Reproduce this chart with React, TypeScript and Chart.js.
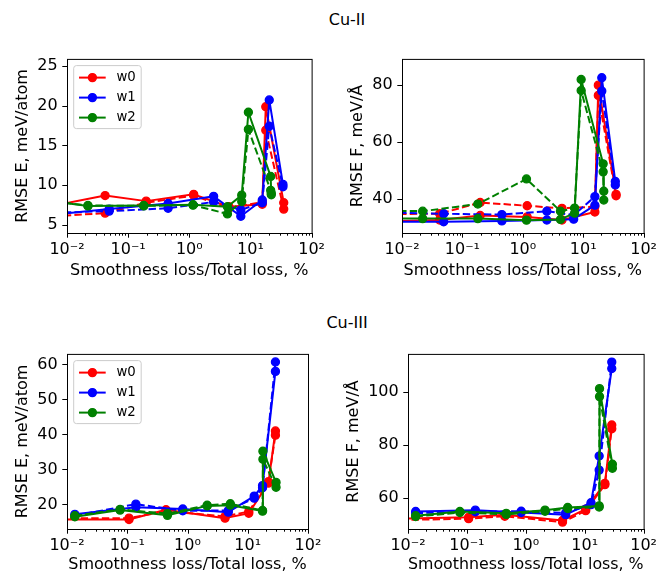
import { useEffect, useRef } from "react";
import { Chart, registerables } from "chart.js";

Chart.register(...registerables);

const FONT = "'DejaVu Sans', sans-serif";

// ---- shared axis / legend text ----
const xTickValues = [0.01, 0.1, 1, 10, 100];
const xTickLabels = ["10⁻²", "10⁻¹", "10⁰", "10¹", "10²"];
const xTitle = "Smoothness loss/Total loss, %";
const seriesNames = ["w0", "w1", "w2"];
const seriesColors = ["#ff0000", "#0000ff", "#008000"];

// ---- Cu-II: smoothness share (%) per run ----
const cu2X_w0 = [0.004, 0.042, 0.197, 1.18, 4.45, 15.6, 17.8, 35];
const cu2X_w1 = [0.004, 0.049, 0.45, 2.5, 6.95, 15.6, 20.3, 34];
const cu2X_w2 = [0.004, 0.022, 0.18, 1.15, 4.2, 7.2, 9.25, 21.4, 21.9];

// Cu-II energy RMSE, meV/atom
const cu2E_w0 = [7.15, 8.7, 8.0, 8.85, 7.3, 7.6, 19.85, 7.8];
const cu2E_w0_dash = [6.0, 6.5, 7.8, 8.7, 7.1, 7.9, 16.9, 7.0];
const cu2E_w1 = [6.2, 7.0, 7.7, 8.6, 6.1, 8.15, 20.7, 10.1];
const cu2E_w1_dash = [6.5, 6.75, 7.1, 7.9, 6.9, 7.8, 17.4, 9.8];
const cu2E_w2 = [8.1, 7.4, 7.45, 7.55, 7.3, 8.75, 19.15, 11.1, 8.8];
const cu2E_w2_dash = [8.1, 7.45, 7.4, 7.5, 6.4, 7.95, 17.0, 9.35, 9.0];

// Cu-II force RMSE, meV/Å
const cu2F_w0 = [32.0, 32.5, 34.1, 33.6, 32.5, 35.3, 79.8, 41.5];
const cu2F_w0_dash = [34.6, 34.7, 38.65, 37.5, 36.6, 37.2, 76.2, 41.0];
const cu2F_w1 = [31.9, 31.9, 32.2, 32.5, 32.8, 37.7, 82.4, 46.0];
const cu2F_w1_dash = [35.2, 34.7, 34.4, 35.6, 34.2, 40.7, 77.7, 44.8];
const cu2F_w2 = [33.1, 33.0, 33.0, 32.45, 32.7, 34.9, 81.8, 52.2, 39.5];
const cu2F_w2_dash = [35.8, 35.6, 38.1, 46.9, 35.6, 36.7, 77.9, 49.4, 42.6];

// ---- Cu-III: smoothness share (%) per run ----
const cu3X_w0 = [0.005, 0.107, 0.44, 4.2, 10.4, 22, 28.8];
const cu3X_w1 = [0.0135, 0.139, 0.835, 4.75, 12.8, 17.6, 28.8];
const cu3X_w2 = [0.0135, 0.076, 0.465, 2.12, 5.14, 17.6, 17.85, 29.5];

// Cu-III energy RMSE, meV/atom
const cu3E_w0 = [15.7, 15.7, 18.5, 16.1, 17.5, 26.1, 41.0];
const cu3E_w0_dash = [16.1, 16.1, 18.1, 16.6, 18.0, 26.5, 39.8];
const cu3E_w1 = [17.2, 19.2, 18.7, 17.8, 22.4, 25.4, 58.0];
const cu3E_w1_dash = [16.8, 20.1, 18.2, 18.3, 21.8, 24.8, 60.7];
const cu3E_w2 = [16.5, 18.4, 16.9, 19.6, 19.8, 18.1, 35.2, 26.3];
const cu3E_w2_dash = [16.8, 18.6, 17.4, 19.8, 20.2, 18.3, 32.9, 24.9];

// Cu-III force RMSE, meV/Å
const cu3F_w0 = [52.1, 52.7, 53.7, 51.5, 55.8, 65.5, 87.5];
const cu3F_w0_dash = [51.6, 52.2, 53.1, 50.9, 55.2, 65.0, 86.1];
const cu3F_w1 = [54.9, 55.4, 54.5, 53.7, 58.2, 75.8, 108.8];
const cu3F_w1_dash = [54.3, 54.8, 55.0, 54.4, 57.5, 70.5, 111.2];
const cu3F_w2 = [53.3, 54.9, 54.2, 55.4, 56.4, 57.0, 101.2, 72.7];
const cu3F_w2_dash = [53.0, 54.5, 53.8, 55.0, 56.0, 56.6, 98.2, 71.2];

// ---- y axis ticks ----
const yTicksCu2E = [5, 10, 15, 20, 25];
const yTicksCu2F = [40, 60, 80];
const yTicksCu3E = [20, 30, 40, 50, 60];
const yTicksCu3F = [60, 80, 100];

type Box = { x: number; y: number; w: number; h: number };
type Area = { left: number; top: number; right: number; bottom: number };

type Spec = {
  box: Box;
  area: Area;
  yTitle: string;
  yMin: number;
  yMax: number;
  yTicks: number[];
  xs: number[][];
  solid: number[][];
  dashed: number[][];
  legend: boolean;
  yTitlePad: number;
  xTitlePad: number;
};

const panels: Spec[] = [
  {
    box: { x: 0, y: 40, w: 332, h: 250 },
    area: { left: 67, top: 53, right: 313, bottom: 233 },
    yTitle: "RMSE E, meV/atom",
    yMin: 4.0,
    yMax: 25.85,
    yTicks: yTicksCu2E,
    xs: [cu2X_w0, cu2X_w1, cu2X_w2],
    solid: [cu2E_w0, cu2E_w1, cu2E_w2],
    dashed: [cu2E_w0_dash, cu2E_w1_dash, cu2E_w2_dash],
    legend: true,
    yTitlePad: 13,
    xTitlePad: 9.4,
  },
  {
    box: { x: 332, y: 40, w: 332, h: 250 },
    area: { left: 402, top: 53, right: 648, bottom: 233 },
    yTitle: "RMSE F, meV/Å",
    yMin: 27.95,
    yMax: 89.0,
    yTicks: yTicksCu2F,
    xs: [cu2X_w0, cu2X_w1, cu2X_w2],
    solid: [cu2F_w0, cu2F_w1, cu2F_w2],
    dashed: [cu2F_w0_dash, cu2F_w1_dash, cu2F_w2_dash],
    legend: false,
    yTitlePad: 16.4,
    xTitlePad: 9.4,
  },
  {
    box: { x: 0, y: 335, w: 332, h: 250 },
    area: { left: 67, top: 347, right: 308, bottom: 529 },
    yTitle: "RMSE E, meV/atom",
    yMin: 13.0,
    yMax: 63.0,
    yTicks: yTicksCu3E,
    xs: [cu3X_w0, cu3X_w1, cu3X_w2],
    solid: [cu3E_w0, cu3E_w1, cu3E_w2],
    dashed: [cu3E_w0_dash, cu3E_w1_dash, cu3E_w2_dash],
    legend: true,
    yTitlePad: 13,
    xTitlePad: 10.4,
  },
  {
    box: { x: 332, y: 335, w: 332, h: 250 },
    area: { left: 408, top: 347, right: 649, bottom: 529 },
    yTitle: "RMSE F, meV/Å",
    yMin: 48.3,
    yMax: 114.3,
    yTicks: yTicksCu3F,
    xs: [cu3X_w0, cu3X_w1, cu3X_w2],
    solid: [cu3F_w0, cu3F_w1, cu3F_w2],
    dashed: [cu3F_w0_dash, cu3F_w1_dash, cu3F_w2_dash],
    legend: false,
    yTitlePad: 11.8,
    xTitlePad: 10.4,
  },
];

// Frame, tick marks and the in-axes legend
function decorPlugin(s: Spec) {
  return {
    id: "decor",
    afterDatasetsDraw(chart: any) {
      const { ctx, chartArea: a } = chart;
      const xs = chart.scales.x;
      const ys = chart.scales.y;
      ctx.save();
      ctx.setLineDash([]);
      ctx.strokeStyle = "#000";
      ctx.lineWidth = 1;
      ctx.beginPath();
      for (const v of xTickValues) {
        const p = Math.round(xs.getPixelForValue(v)) + 0.5;
        ctx.moveTo(p, a.bottom);
        ctx.lineTo(p, a.bottom + 4.7);
      }
      for (let d = 0; d < xTickValues.length - 1; d++) {
        for (let m = 2; m <= 9; m++) {
          const p = Math.round(xs.getPixelForValue(xTickValues[d] * m)) + 0.5;
          ctx.moveTo(p, a.bottom);
          ctx.lineTo(p, a.bottom + 2.7);
        }
      }
      for (const v of s.yTicks) {
        const p = Math.round(ys.getPixelForValue(v)) + 0.5;
        ctx.moveTo(a.left, p);
        ctx.lineTo(a.left - 4.7, p);
      }
      ctx.stroke();
      ctx.strokeRect(a.left + 0.5, a.top + 0.5, a.right - a.left, a.bottom - a.top);

      if (s.legend) {
        const bx = a.left + 6.7;
        const by = a.top + 6.7;
        const bw = 67.5;
        const bh = 63;
        ctx.beginPath();
        ctx.roundRect(bx, by, bw, bh, 2.7);
        ctx.fillStyle = "rgba(255,255,255,0.8)";
        ctx.fill();
        ctx.strokeStyle = "#cccccc";
        ctx.lineWidth = 1;
        ctx.stroke();
        seriesNames.forEach((name, k) => {
          const cy = by + 12 + 20 * k;
          ctx.strokeStyle = seriesColors[k];
          ctx.lineWidth = 2;
          ctx.beginPath();
          ctx.moveTo(bx + 5.3, cy);
          ctx.lineTo(bx + 32, cy);
          ctx.stroke();
          ctx.beginPath();
          ctx.arc(bx + 18.7, cy, 4, 0, Math.PI * 2);
          ctx.fillStyle = seriesColors[k];
          ctx.fill();
          ctx.lineWidth = 1.33;
          ctx.stroke();
          ctx.fillStyle = "#000";
          ctx.font = `13.3px ${FONT}`;
          ctx.textBaseline = "middle";
          ctx.textAlign = "left";
          ctx.fillText(name, bx + 42.7, cy);
        });
      }
      ctx.restore();
    },
  };
}

function buildConfig(s: Spec): any {
  const datasets: any[] = [];
  // first dataset is painted last, so w2 ends up on top
  for (let k = 2; k >= 0; k--) {
    for (const kind of ["dashed", "solid"]) {
      const vals = kind === "solid" ? s.solid[k] : s.dashed[k];
      const c = seriesColors[k];
      datasets.push({
        label: seriesNames[k],
        data: s.xs[k]
          .map((x, i) => ({ x, y: vals[i] }))
          .filter((p) => p.y !== null && p.y !== undefined),
        borderColor: c,
        backgroundColor: c,
        borderWidth: 2,
        borderDash: kind === "dashed" ? [7.4, 3.2] : [],
        borderJoinStyle: "round",
        tension: 0,
        fill: false,
        pointRadius: 4,
        pointHoverRadius: 4,
        pointBorderWidth: 1.33,
        pointBackgroundColor: c,
        pointBorderColor: c,
      });
    }
  }

  const yWidth = s.area.left - s.box.x;
  const xHeight = s.box.y + s.box.h - s.area.bottom;
  const tickFont = { family: FONT, size: 16 };

  return {
    type: "line",
    data: { datasets },
    options: {
      animation: false,
      responsive: false,
      devicePixelRatio: 1,
      events: [],
      layout: {
        padding: {
          left: 0,
          top: s.area.top - s.box.y,
          right: s.box.x + s.box.w - s.area.right,
          bottom: 0,
        },
      },
      plugins: {
        legend: { display: false },
        tooltip: { enabled: false },
      },
      scales: {
        x: {
          type: "logarithmic",
          min: xTickValues[0],
          max: xTickValues[xTickValues.length - 1],
          afterBuildTicks: (sc: any) => {
            sc.ticks = xTickValues.map((v) => ({ value: v, major: true }));
          },
          afterFit: (sc: any) => {
            sc.height = xHeight;
          },
          grid: { display: false, drawTicks: false },
          border: { display: false },
          ticks: {
            autoSkip: false,
            maxRotation: 0,
            minRotation: 0,
            padding: 7,
            color: "#000",
            font: tickFont,
            callback: (_v: any, i: number) => xTickLabels[i],
          },
          title: {
            display: true,
            text: xTitle,
            color: "#000",
            font: tickFont,
            padding: { top: 0, bottom: s.xTitlePad },
          },
        },
        y: {
          type: "linear",
          min: s.yMin,
          max: s.yMax,
          afterBuildTicks: (sc: any) => {
            sc.ticks = s.yTicks.map((v) => ({ value: v }));
          },
          afterFit: (sc: any) => {
            sc.width = yWidth;
          },
          grid: { display: false, drawTicks: false },
          border: { display: false },
          ticks: {
            padding: 9.3,
            color: "#000",
            font: tickFont,
            callback: (v: any) => String(v),
          },
          title: {
            display: true,
            text: s.yTitle,
            color: "#000",
            font: tickFont,
            padding: { top: s.yTitlePad, bottom: 0 },
          },
        },
      },
    },
    plugins: [decorPlugin(s)],
  };
}

function Panel({ spec }: { spec: Spec }) {
  const ref = useRef<HTMLCanvasElement>(null);
  useEffect(() => {
    const chart = new Chart(ref.current as HTMLCanvasElement, buildConfig(spec));
    return () => chart.destroy();
  }, [spec]);
  return (
    <canvas
      ref={ref}
      width={spec.box.w}
      height={spec.box.h}
      style={{
        position: "absolute",
        left: spec.box.x,
        top: spec.box.y,
        width: spec.box.w,
        height: spec.box.h,
      }}
    />
  );
}

const rowTitleStyle = (top: number): any => ({
  position: "absolute",
  left: 347,
  top,
  transform: "translateX(-50%)",
  font: `16px ${FONT}`,
  lineHeight: "24px",
  color: "#000",
  whiteSpace: "nowrap",
});

export default function App() {
  return (
    <div
      style={{
        position: "absolute",
        left: 0,
        top: 0,
        width: 664,
        height: 574,
        overflow: "hidden",
        background: "#fff",
      }}
    >
      <div style={rowTitleStyle(8)}>Cu-II</div>
      <div style={rowTitleStyle(311)}>Cu-III</div>
      {panels.map((p, i) => (
        <Panel key={i} spec={p} />
      ))}
    </div>
  );
}
